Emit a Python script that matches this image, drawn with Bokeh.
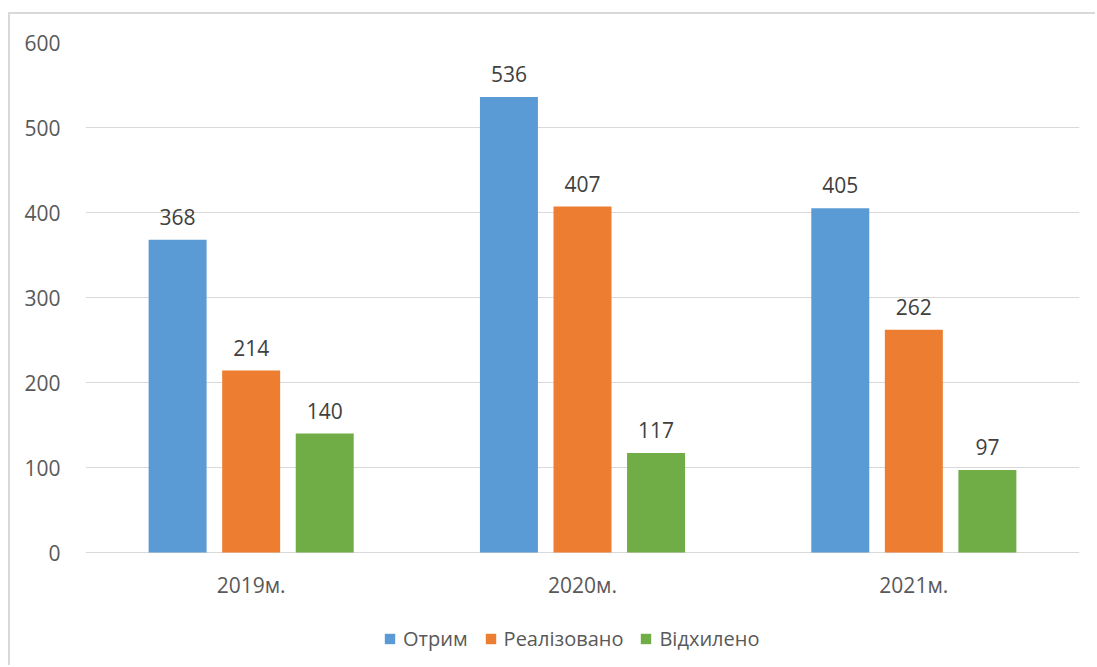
from bokeh.plotting import figure
from bokeh.models import ColumnDataSource, Legend, LegendItem, FactorRange, Range1d
from bokeh.transform import dodge
from bokeh.core.properties import value
from bokeh.embed import file_html
from bokeh.resources import INLINE

years = ["2019м.", "2020м.", "2021м."]
series_names = ["Отрим", "Реалізовано", "Відхилено"]
otrym = [368, 536, 405]
realizovano = [214, 407, 262]
vidkhyleno = [140, 117, 97]
colors = ["#5B9BD5", "#ED7D31", "#70AD47"]
y_ticks = [0, 100, 200, 300, 400, 500, 600]

FONT = "Open Sans"
FS = "21px"

src = ColumnDataSource(dict(
    years=years, otrym=otrym, realizovano=realizovano, vidkhyleno=vidkhyleno,
    otrym_t=[str(v) for v in otrym],
    realizovano_t=[str(v) for v in realizovano],
    vidkhyleno_t=[str(v) for v in vidkhyleno],
    zero=[0, 0, 0],
))

# frame: top at value 600 (page y=42), extends to page bottom (667); 0.85 px per unit
FIG_H = 653
FRAME_H = FIG_H - 28
y_start = -(FRAME_H - 510) / 0.85

p = figure(x_range=FactorRange(*years, range_padding=0), y_range=Range1d(y_start, 600),
           width=1087, height=FIG_H, output_backend="svg", toolbar_location=None,
           min_border_left=75, min_border_right=18, min_border_top=28, min_border_bottom=0,
           margin=(12, 0, 0, 8))
p.styles = {"border-left": "2px solid #d9d9d9", "border-top": "2px solid #d9d9d9"}
p.outline_line_color = None
p.background_fill_color = "white"
p.border_fill_color = "white"

offsets = [-0.222, 0.0, 0.222]
cols = ["otrym", "realizovano", "vidkhyleno"]
renderers = []
for off, col, c in zip(offsets, cols, colors):
    r = p.vbar(x=dodge("years", off, range=p.x_range), top=col, width=0.175,
               source=src, fill_color=c, line_color=None)
    renderers.append(r)
    p.text(x=dodge("years", off, range=p.x_range), y=col, text=col + "_t", source=src,
           text_align="center", text_baseline="alphabetic", y_offset=-23,
           text_font=value(FONT), text_font_size=FS, text_color="#404040")

# category labels under the zero line
p.text(x="years", y="zero", text="years", source=src, text_align="center",
       text_baseline="alphabetic", y_offset=32,
       text_font=value(FONT), text_font_size=FS, text_color="#595959")

p.xgrid.grid_line_color = None
p.ygrid.grid_line_color = "#d9d9d9"
p.ygrid.grid_line_width = 1
p.ygrid.ticker = y_ticks
p.yaxis.ticker = y_ticks
p.yaxis.axis_line_color = None
p.yaxis.major_tick_line_color = None
p.yaxis.minor_tick_line_color = None
p.yaxis.major_label_standoff = 19
p.yaxis.major_label_text_font = FONT
p.yaxis.major_label_text_font_size = FS
p.yaxis.major_label_text_color = "#595959"

p.xaxis.visible = False

legend = Legend(items=[LegendItem(label=n, renderers=[r]) for n, r in zip(series_names, renderers)],
                orientation="horizontal", location=(298, 15),
                label_text_font=FONT, label_text_font_size="20px", label_text_color="#595959",
                glyph_width=13, glyph_height=13, spacing=16, label_standoff=7,
                border_line_color=None, background_fill_alpha=0, margin=0, padding=0)
p.add_layout(legend, "center")

open("out.html", "w").write(file_html(p, INLINE))
